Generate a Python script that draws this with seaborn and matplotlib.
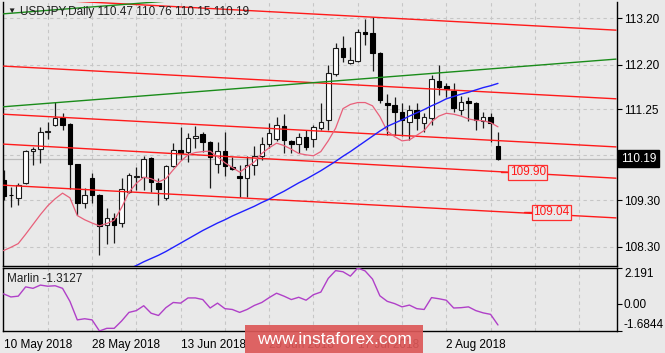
import numpy as np
import pandas as pd
import matplotlib
matplotlib.use("Agg")
import matplotlib.pyplot as plt
import matplotlib.transforms as mtransforms
from matplotlib.patches import Rectangle
import seaborn as sns

# ---------------- data ----------------
date_labels = ["10 May 2018", "28 May 2018", "13 Jun 2018", "29 Jun 2018", "17 Jul 2018", "2 Aug 2018"]
date_label_idx = [0, 12, 24, 36, 48, 60]

opens = [109.73, 109.42, 109.35, 109.67, 110.35, 110.39, 110.77, 110.91, 111.06, 110.93,
         110.07, 109.24, 109.77, 109.41, 108.77, 108.92, 108.81, 109.47, 109.80, 109.80,
         110.20, 109.67, 109.35, 110.03, 110.37, 110.33, 110.63, 110.72, 110.54, 110.07,
         110.35, 110.01, 109.82, 109.77, 110.05, 110.25, 110.50, 110.61, 110.89, 110.57,
         110.50, 110.65, 110.60, 110.84, 111.02, 112.00, 112.56, 112.24, 112.28, 112.90,
         112.88, 112.45, 111.38, 111.34, 111.19, 110.97, 111.23, 110.95, 111.06, 111.85,
         111.74, 111.64, 111.23, 111.42, 111.38, 111.00, 111.08, 110.47]
highs = [109.95, 109.58, 109.67, 110.37, 110.44, 110.87, 110.97, 111.40, 111.17, 110.95,
         110.08, 109.56, 109.88, 109.43, 109.13, 109.02, 109.77, 109.88, 110.01, 110.25,
         110.22, 109.77, 110.05, 110.52, 110.87, 110.74, 110.89, 110.76, 110.56, 110.54,
         110.76, 110.22, 110.05, 110.25, 110.46, 110.65, 110.95, 111.08, 111.14, 110.59,
         110.74, 110.80, 110.91, 111.38, 112.19, 112.66, 112.81, 112.58, 112.96, 113.18,
         113.22, 112.47, 111.57, 111.51, 111.38, 111.34, 111.38, 111.17, 111.98, 112.19,
         111.81, 111.81, 111.53, 111.51, 111.40, 111.19, 111.17, 110.76]
lows = [109.30, 109.15, 109.20, 109.64, 110.05, 110.10, 110.61, 110.89, 110.80, 109.54,
        108.98, 109.13, 109.24, 108.13, 108.36, 108.38, 108.72, 109.45, 109.52, 109.52,
        109.47, 109.20, 109.30, 110.01, 110.16, 110.12, 110.42, 110.33, 109.56, 109.88,
        109.82, 109.95, 109.37, 109.37, 109.84, 110.16, 110.42, 110.57, 110.31, 110.31,
        110.31, 110.37, 110.44, 110.80, 110.80, 111.96, 112.26, 112.21, 112.26, 112.62,
        112.07, 111.38, 110.69, 110.69, 110.67, 110.59, 110.80, 110.76, 110.91, 111.55,
        111.51, 111.19, 111.12, 110.99, 110.80, 110.84, 110.54, 110.15]
closes = [109.39, 109.40, 109.62, 110.35, 110.39, 110.76, 110.78, 111.06, 110.91, 110.07,
          109.24, 109.41, 109.41, 108.75, 108.92, 108.77, 109.54, 109.84, 109.81, 110.18,
          109.69, 109.54, 110.03, 110.37, 110.31, 110.63, 110.67, 110.54, 110.22, 110.35,
          110.03, 109.97, 109.77, 110.05, 110.25, 110.50, 110.74, 110.91, 110.59, 110.50,
          110.65, 110.44, 110.87, 110.97, 112.02, 112.56, 112.36, 112.30, 112.90, 112.86,
          112.45, 111.44, 111.34, 111.19, 111.02, 111.23, 111.06, 111.08, 111.89, 111.72,
          111.68, 111.27, 111.40, 111.38, 111.02, 111.08, 110.95, 110.19]

ma_fast = [108.22, 108.29, 108.37, 108.57, 108.78, 108.99, 109.18, 109.33, 109.45, 109.35,
           108.97, 108.88, 108.81, 108.75, 108.80, 108.87, 109.14, 109.47, 109.66, 109.79,
           109.76, 109.69, 109.76, 109.95, 110.13, 110.27, 110.32, 110.34, 110.35, 110.23,
           110.10, 110.00, 109.90, 110.01, 110.12, 110.30, 110.42, 110.52, 110.47, 110.39,
           110.30, 110.27, 110.25, 110.34, 110.57, 110.84, 111.26, 111.35, 111.39, 111.39,
           111.32, 111.09, 110.78, 110.66, 110.57, 110.59, 110.69, 110.79, 110.98, 111.10,
           111.16, 111.14, 111.10, 111.04, 111.01, 111.00, 110.96, 110.87]

ma_slow_start = 17
ma_slow = [107.83, 107.90, 107.98, 108.05, 108.12, 108.20, 108.29, 108.38, 108.47, 108.56,
           108.65, 108.73, 108.81, 108.88, 108.96, 109.03, 109.10, 109.17, 109.25, 109.32,
           109.41, 109.49, 109.58, 109.67, 109.75, 109.84, 109.93, 110.03, 110.13, 110.24,
           110.34, 110.45, 110.56, 110.67, 110.78, 110.88, 110.95, 111.02, 111.10, 111.17,
           111.24, 111.32, 111.39, 111.47, 111.52, 111.57, 111.61, 111.66, 111.71, 111.75,
           111.80]

marlin = [0.60, 0.41, 0.46, 1.03, 0.94, 1.14, 1.07, 1.10, 0.94, 0.14,
          -1.00, -0.93, -1.00, -1.6844, -1.52, -1.52, -1.07, -0.54, -0.43, -0.13,
          -0.59, -0.73, -0.25, 0.07, 0.03, 0.35, 0.35, 0.25, -0.27, 0.03,
          -0.31, -0.36, -0.54, -0.36, -0.11, 0.07, 0.37, 0.64, 0.46, 0.25,
          0.39, 0.21, 0.55, 0.71, 1.55, 2.03, 1.96, 1.69, 2.191, 2.01,
          1.51, 0.48, 0.14, 0.00, -0.20, -0.09, -0.31, -0.36, 0.37, 0.30,
          0.21, -0.27, -0.25, -0.20, -0.43, -0.57, -0.66, -1.3127]

# trend lines: price at bar 0 and at bar 83
line_idx = [0, 83]
red_start = [113.64, 112.17, 111.14, 110.50, 109.62]
red_end = [112.94, 111.47, 110.44, 109.77, 108.92]
green_start = [111.30, 113.29]
green_end = [112.32, 114.31]

price_ticks = [113.20, 112.20, 111.25, 110.27, 109.30, 108.30]
price_tick_labels = ["113.20", "112.20", "111.25", "", "109.30", "108.30"]
last_price = 110.19
header = "USDJPY,Daily 110.47 110.76 110.15 110.19"

tag_idx = [68.6, 71.75]
tag_price = [109.90, 109.04]
tag_text = ["109.90", "109.04"]

ind_ticks = [2.191, 0.0, -1.6844]
ind_tick_labels = ["2.191", "0.00", "-1.6844"]
ind_name = "Marlin -1.3127"
watermark = "www.instaforex.com"

# ---------------- style ----------------
BG = "#e9e9e9"
sns.set_theme(style="white")
plt.rcParams["font.family"] = ["Liberation Sans", "DejaVu Sans"]
plt.rcParams["font.size"] = 8.5
plt.rcParams["axes.facecolor"] = BG
plt.rcParams["figure.facecolor"] = BG

W, H = 665, 353
fig = plt.figure(figsize=(W / 100, H / 100), dpi=100)
fx = lambda p: p / W
fy = lambda p: 1 - p / H

ax = fig.add_axes([fx(3), fy(266), fx(617) - fx(3), fy(2) - fy(266)])
ax2 = fig.add_axes([fx(3), fy(331), fx(617) - fx(3), fy(268) - fy(331)])

n = len(closes)
idx = np.arange(n)
df = pd.DataFrame({"idx": idx, "open": opens, "high": highs, "low": lows, "close": closes})
xlim = (-0.068, 83.13)

# ---- main panel ----
ax.set_xlim(*xlim)
ax.set_ylim(107.89, 113.543)
grid_kw = dict(color="#c6c6c6", linestyle=(0, (3, 3)), linewidth=0.8)
for g in range(6, 84, 6):
    ax.axvline(g, zorder=0, **grid_kw)
for t in price_ticks:
    ax.axhline(t, zorder=0, **grid_kw)
ax.axhline(last_price, color="#bcbcbc", lw=0.9, zorder=1)

# candles
up = df["close"] >= df["open"]
ax.vlines(df["idx"], df["low"], df["high"], color="#1a1a1a", lw=0.9, zorder=2)
body_h = np.maximum((df["close"] - df["open"]).abs(), 0.015)
body_b = np.minimum(df["open"], df["close"])
ax.bar(df["idx"][up], body_h[up], bottom=body_b[up], width=0.62,
       color="white", edgecolor="#1a1a1a", linewidth=0.8, zorder=3)
ax.bar(df["idx"][~up], body_h[~up], bottom=body_b[~up], width=0.62,
       color="black", edgecolor="black", linewidth=0.8, zorder=3)

# trend lines
for s, e in zip(red_start, red_end):
    sns.lineplot(x=line_idx, y=[s, e], ax=ax, color="#ff1a1a", lw=1.0, zorder=4)
for s, e in zip(green_start, green_end):
    sns.lineplot(x=line_idx, y=[s, e], ax=ax, color="#1a8c1a", lw=1.0, zorder=4)

# moving averages
sns.lineplot(x=idx, y=ma_fast, ax=ax, color="#e8607a", lw=0.9, zorder=5)
sns.lineplot(x=np.arange(ma_slow_start, ma_slow_start + len(ma_slow)), y=ma_slow,
             ax=ax, color="#2020ff", lw=1.0, zorder=5)

# price tags
for ti, tp, tt in zip(tag_idx, tag_price, tag_text):
    ax.plot([ti - 1.25, ti - 0.1], [tp, tp], color="#ff1a1a", lw=1.0, zorder=6)
    ax.text(ti, tp, tt, color="#ff1a1a", ha="left", va="center", fontsize=8.5, zorder=7,
            bbox=dict(boxstyle="square,pad=0.12", fc=BG, ec="#ff3030", lw=0.9))

ax.set_xticks([])
ax.set_yticks(price_ticks)
ax.set_yticklabels(price_tick_labels)
ax.yaxis.tick_right()
ax.tick_params(axis="y", direction="out", length=3.5, width=0.8, pad=1.5,
               colors="black", labelsize=8.5)
for sp in ["left", "bottom", "right"]:
    ax.spines[sp].set_visible(True)
    ax.spines[sp].set_color("black")
    ax.spines[sp].set_linewidth(1.0)
ax.spines["top"].set_visible(False)
ax.set_xlabel("")
ax.set_ylabel("")

trans = mtransforms.blended_transform_factory(ax.transAxes, ax.transData)
ax.text(1.0 + 4 / 614, last_price, f"{last_price:.2f}", transform=trans, ha="left", va="center",
        color="white", fontsize=8.5, zorder=8,
        bbox=dict(boxstyle="square,pad=0.22", fc="black", ec="black"))

fig.text(fx(7), fy(11), "\u25bc", fontsize=6, va="center", ha="left", color="#202020")
fig.text(fx(20), fy(11.5), header, fontsize=8.5, va="center", ha="left", color="#202020")

# ---- indicator panel ----
ax2.set_xlim(*xlim)
ax2.set_ylim(-1.6844, 2.191)
for g in range(6, 84, 6):
    ax2.axvline(g, zorder=0, **grid_kw)
sns.lineplot(x=idx, y=marlin, ax=ax2, color="#b040c8", lw=1.0, zorder=3)
ax2.set_xticks(date_label_idx)
ax2.set_xticklabels(date_labels)
for lab in ax2.get_xticklabels():
    lab.set_ha("left")
ax2.tick_params(axis="x", direction="out", length=3, width=0.8, pad=3,
                colors="black", labelsize=8.5)
ax2.set_yticks(ind_ticks)
ax2.set_yticklabels(ind_tick_labels)
ax2.yaxis.tick_right()
ax2.tick_params(axis="y", direction="out", length=3.5, width=0.8, pad=1.5,
                colors="black", labelsize=8.5)
ylabs = ax2.get_yticklabels()
ylabs[0].set_va("top")
ylabs[2].set_va("bottom")
for sp in ["left", "bottom", "right", "top"]:
    ax2.spines[sp].set_visible(True)
    ax2.spines[sp].set_color("black")
    ax2.spines[sp].set_linewidth(1.0)
ax2.set_xlabel("")
ax2.set_ylabel("")
fig.text(fx(7), fy(279), ind_name, fontsize=8.5, va="center", ha="left", color="#202020")

# ---- watermark ----
fig.patches.append(Rectangle((fx(245), fy(353)), fx(423) - fx(245), fy(325) - fy(353),
                             transform=fig.transFigure, fc="#dc5858", ec="none",
                             alpha=0.92, zorder=10))
fig.text(fx(334), fy(339), watermark, color="white", fontsize=12.5,
         ha="center", va="center", zorder=11)

fig.savefig("out.png", dpi=100, facecolor=BG)
